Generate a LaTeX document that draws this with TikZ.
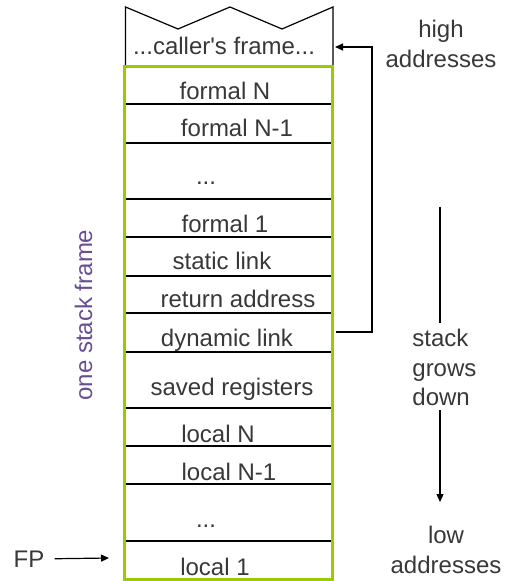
\documentclass[tikz,border=0pt]{standalone}
\usepackage{fontspec}
\setmainfont{Liberation Sans}
\usetikzlibrary{arrows.meta, positioning}
\definecolor{ink}  {HTML}{383838}
\definecolor{rimgreen}{HTML}{99CC00}
\definecolor{plum} {HTML}{6A4C93}
\tikzset{
  slot/.style  = {anchor=base, inner sep=0pt, text=ink,
                  font=\fontsize{12}{14.5}\selectfont},
  side/.style  = {slot, align=center, font=\fontsize{12}{15}\selectfont},
  sep/.style   = {line width=0.6pt, black},
  rim/.style   = {draw=rimgreen, line width=1.7pt},
  arr/.style   = {-{Triangle[length=4pt,width=3.5pt]}, line width=0.6pt, black},
}

\begin{document}
\begin{tikzpicture}[x=0.5pt, y=-0.5pt]
  \useasboundingbox (0,0) rectangle (504,581);

  % caller's frame, torn off at the top
  \draw[line width=0.6pt] (125.5,66) -- (125.5,7) -- (178,29) -- (230,7)
    -- (282,29) -- (333,7) -- (333,66);
  \node[slot] (caller) at (224,55) {...caller\textquotesingle s frame...};

  % slot separators
  \foreach \y in {104,143,199,237,276,313,352,408,446,484,541}
    \draw[sep] (125,\y) -- (332,\y);

  % slots of the frame
  \node[slot] (formalN)  at (225,100) {formal N};
  \node[slot] (formalN1) at (237,137) {formal N-1};
  \node[slot] (fdots)    at (206,185) {...};
  \node[slot] (formal1)  at (225,233) {formal 1};
  \node[slot] (static)   at (222,270) {static link};
  \node[slot] (retaddr)  at (238,308) {return address};
  \node[slot] (dynlink)  at (227,346) {dynamic link};
  \node[slot] (saved)    at (232,395) {saved registers};
  \node[slot] (localN)   at (218,442) {local N};
  \node[slot] (localN1)  at (229,480) {local N-1};
  \node[slot] (ldots)    at (206,527) {...};
  \node[slot] (local1)   at (215,575) {local 1};

  % frame border
  \draw[rim] (124.5,66.5) rectangle (332.5,579.5);
  \node[slot, rotate=90, text=plum] (onestack) at (92,315) {one stack frame};

  % dynamic link back to the caller
  \coordinate (dynout) at (336,332);
  \coordinate (callin) at (335,47);
  \draw[arr] (dynout) -- (372,332) |- (callin);

  % frame pointer
  \node[slot] (fp) at (29,567) {FP};
  \coordinate (fptip) at (109,558);
  \draw[arr] ([xshift=5pt]fp.east) -- (fptip);

  % address side (base = last line)
  \node[side] (high) at (441,68) {high\\addresses};
  \node[side] (low)  at (446,573) {low\\addresses};
  \node[slot, anchor=base west, align=left] (grows) at (412,405)
    {stack\\grows\\down};
  \coordinate (growtop) at (440,207);
  \coordinate (growbot) at (440,502);
  \draw[line width=0.6pt] (growtop) -- (440,323);
  \draw[arr] (440,410) -- (growbot);
\end{tikzpicture}
\end{document}
